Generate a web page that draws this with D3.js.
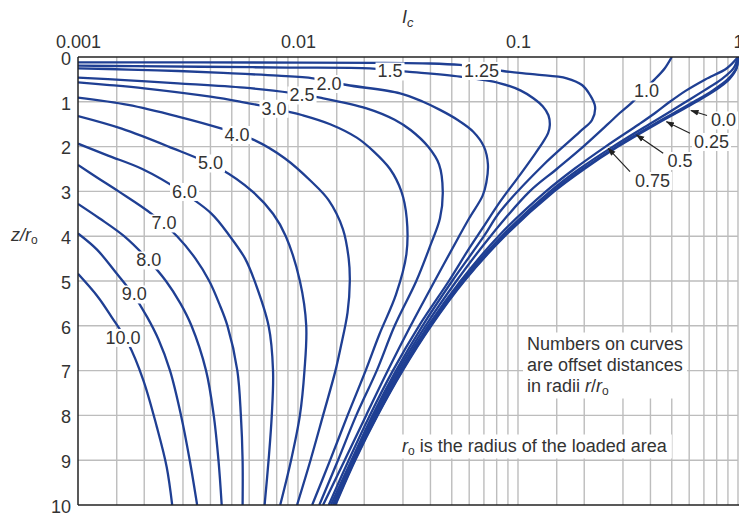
<!DOCTYPE html>
<html><head><meta charset="utf-8">
<script src="https://cdnjs.cloudflare.com/ajax/libs/d3/7.8.5/d3.min.js"></script>
<style>
body{margin:0;background:#fff;}
svg{display:block;font-family:"Liberation Sans",Arial,Helvetica,sans-serif;}
</style></head><body>
<svg id="c" width="739" height="514"></svg>
<script>
// ---------- DATA (z/r0, Ic) ----------
const xTickValues = [0.001, 0.01, 0.1, 1];
const xTickLabels = ["0.001", "0.01", "0.1", "1"];
const yTickValues = [0,1,2,3,4,5,6,7,8,9,10];
const gridMultipliers = [1.5,2,3,4,5,6,7,8,9];
const gridDecades = [0.001, 0.01, 0.1];

const curve_0_0 = [[0,1],[0.25,0.986],[0.5,0.911],[0.75,0.784],[1,0.646],[1.25,0.524],[1.5,0.424],[2,0.285],[2.5,0.200],[3,0.146],[4,0.087],[5,0.057],[6,0.0403],[7,0.0299],[8,0.0230],[9,0.0182],[10,0.0148]];
const curve_0_25 = [[0,1],[0.25,0.982],[0.5,0.897],[0.75,0.766],[1,0.630],[1.25,0.512],[1.5,0.415],[2,0.280],[2.5,0.197],[3,0.144],[4,0.0862],[5,0.0566],[6,0.0400],[7,0.0297],[8,0.0229],[9,0.0181],[10,0.0147]];
const curve_0_5 = [[0,1],[0.25,0.955],[0.5,0.84],[0.75,0.70],[1,0.58],[1.25,0.48],[1.5,0.395],[2,0.27],[2.5,0.19],[3,0.140],[4,0.0843],[5,0.0557],[6,0.0395],[7,0.0294],[8,0.0227],[9,0.0180],[10,0.0146]];
const curve_0_75 = [[0,1],[0.25,0.89],[0.5,0.71],[0.75,0.58],[1,0.49],[1.25,0.42],[1.5,0.355],[2,0.25],[2.5,0.18],[3,0.134],[4,0.0815],[5,0.0548],[6,0.0390],[7,0.0291],[8,0.0226],[9,0.0179],[10,0.01455]];
const curve_1_0 = [[0,0.5],[0.25,0.465],[0.5,0.418],[0.75,0.37],[1,0.332],[1.25,0.29],[1.5,0.256],[2,0.198],[2.5,0.15],[3,0.113],[4,0.075],[5,0.0525],[6,0.038],[7,0.0285],[8,0.0222],[9,0.0178],[10,0.0144]];
const curve_1_25 = [[0.118,0.001],[0.1205,0.0036],[0.125,0.0102],[0.1295,0.0224],[0.145,0.0398],[0.178,0.0545],[0.234,0.0679],[0.3125,0.0855],[0.39,0.1195],[0.475,0.1665],[0.625,0.1954],[0.848,0.2125],[1.109,0.224],[1.406,0.217],[1.667,0.1913],[2.41,0.1303],[3.45,0.0829],[4,0.0700],[5,0.0502],[6,0.0368],[7,0.0279],[8,0.0218],[9,0.0175],[10,0.0141]];
const curve_1_5 = [[0.194,0.001],[0.205,0.0018],[0.218,0.0036],[0.235,0.009],[0.252,0.0212],[0.29,0.026],[0.328,0.0313],[0.44,0.0545],[0.587,0.0829],[0.75,0.103],[0.92,0.1174],[1.1,0.1295],[1.3,0.1375],[1.52,0.1395],[1.7,0.137],[1.89,0.1303],[2.2,0.118],[2.63,0.1021],[3.23,0.0829],[3.8,0.0695],[4.3,0.0595],[5,0.0485],[6,0.0355],[7,0.0270],[8,0.0212],[9,0.0170],[10,0.0138]];
const curve_2_0 = [[0.252,0.001],[0.28,0.0017],[0.3125,0.00285],[0.36,0.0048],[0.417,0.0081],[0.475,0.0117],[0.55,0.0142],[0.625,0.0167],[0.81,0.0291],[1.0,0.037],[1.18,0.0442],[1.4,0.053],[1.667,0.0626],[2,0.0700],[2.4,0.0730],[2.8,0.0718],[3.1,0.0690],[3.6,0.0600],[4,0.0540],[5,0.0418],[6,0.0325],[7,0.0256],[8,0.0204],[9,0.0163],[10,0.0130]];
const curve_2_5 = [[0.462,0.001],[0.52,0.0017],[0.587,0.00285],[0.685,0.0057],[0.8,0.0093],[0.908,0.0126],[1.145,0.0205],[1.4,0.0275],[1.63,0.0325],[2,0.039],[2.4,0.0438],[3,0.0455],[3.6,0.0442],[4.2,0.040],[5,0.0345],[6,0.0275],[7,0.0228],[8,0.0184],[9,0.0152],[10,0.0125]];
const curve_3_0 = [[0.565,0.001],[0.62,0.00135],[0.7,0.002],[0.886,0.004],[1.0,0.0055],[1.145,0.0078],[1.3,0.0105],[1.5,0.014],[1.8,0.0185],[2.1,0.022],[2.5,0.0262],[3,0.0295],[3.6,0.0312],[4.4,0.0311],[5.3,0.0279],[6.2,0.0234],[7,0.0203],[8,0.0168],[9,0.0140],[10,0.0116]];
const curve_4_0 = [[0.908,0.001],[1.07,0.00169],[1.33,0.00285],[1.6,0.0045],[1.85,0.0063],[2.26,0.0087],[2.78,0.0115],[3.2,0.0138],[3.84,0.0160],[4.5,0.0170],[5,0.0172],[5.7,0.0168],[6.5,0.0156],[7,0.0148],[8,0.0130],[9,0.0114],[10,0.0099]];
const curve_5_0 = [[1.32,0.001],[1.6,0.00158],[2,0.00258],[2.5,0.00445],[3,0.0062],[3.5,0.0077],[4,0.0088],[5,0.0102],[6,0.0109],[7,0.0107],[8,0.0102],[9,0.0093],[10,0.0083]];
const curve_6_0 = [[1.935,0.001],[2.2,0.00137],[2.5,0.00196],[3,0.00295],[3.5,0.00405],[4,0.0049],[4.5,0.00575],[5,0.00635],[6,0.00735],[7,0.0077],[8,0.0076],[9,0.00735],[10,0.00705]];
const curve_7_0 = [[2.41,0.001],[2.7,0.00123],[3,0.00153],[3.5,0.00216],[4,0.00282],[4.5,0.00342],[5,0.00395],[5.5,0.00438],[6,0.00478],[7,0.00530],[8,0.00550],[9,0.00560],[10,0.0056]];
const curve_8_0 = [[3.28,0.001],[3.6,0.00125],[4,0.00162],[4.5,0.00206],[5,0.00251],[5.5,0.00292],[6,0.00328],[7,0.00382],[8,0.00414],[9,0.00435],[10,0.0045]];
const curve_9_0 = [[3.94,0.001],[4.3,0.00122],[4.8,0.00148],[5.3,0.00178],[5.8,0.00206],[6.3,0.00232],[7,0.00262],[8,0.00294],[9,0.00322],[10,0.00348]];
const curve_10_0 = [[4.84,0.001],[5.35,0.00123],[5.8,0.00142],[6.39,0.00169],[7.21,0.00198],[8.25,0.00228],[9.15,0.00253],[10,0.00268]];

// curve labels: text and anchor (Ic, z/r0)
const labelTexts = ["1.5","1.25","2.0","2.5","3.0","4.0","5.0","6.0","7.0","8.0","9.0","10.0","1.0","0.0","0.25","0.5","0.75"];
const labelIc = [0.0262,0.0682,0.01383,0.01043,0.00778,0.00528,0.0040,0.00305,0.00246,0.0021,0.0018,0.0016,0.384,0.859,0.758,0.545,0.409];
const labelZ = [0.3125,0.301,0.5915,0.848,1.145,1.73,2.366,3.002,3.705,4.531,5.29,6.26,0.759,1.406,1.886,2.31,2.757];

// arrows for the tight bundle: tail (Ic,z) -> tip (Ic,z)
const arrowTailIc = [0.723,0.605,0.457,0.323];
const arrowTailZ = [1.306,1.703,2.15,2.56];
const arrowTipIc = [0.611,0.473,0.346,0.257];
const arrowTipZ = [1.194,1.444,1.741,2.038];

// ---------- CHART ----------
const curves = [curve_0_0,curve_0_25,curve_0_5,curve_0_75,curve_1_0,curve_1_25,curve_1_5,curve_2_0,curve_2_5,curve_3_0,curve_4_0,curve_5_0,curve_6_0,curve_7_0,curve_8_0,curve_9_0,curve_10_0];

const svg = d3.select("#c");
const L = 78, R = 738, T = 57, B = 505;
const x = d3.scaleLog().domain([0.001, 1]).range([L, R]);
const y = d3.scaleLinear().domain([0, 10]).range([T, B]);

const gridColor = "#bdbdbd";
const textColor = "#333";
const curveColor = "#1f3f93";

svg.append("defs").append("clipPath").attr("id","plotclip")
  .append("rect").attr("x",L).attr("y",T).attr("width",R-L+1).attr("height",B-T);

const marker = svg.select("defs").append("marker")
  .attr("id","arrow").attr("viewBox","0 0 10 10").attr("refX",9).attr("refY",5)
  .attr("markerWidth",7).attr("markerHeight",7).attr("orient","auto")
  .append("path").attr("d","M0,1.5 L10,5 L0,8.5 Z").attr("fill","#222");

// grid
const vGrid = [];
gridDecades.forEach(d => gridMultipliers.forEach(m => vGrid.push(d*m)));
vGrid.push(0.01, 0.1, 1);
const g = svg.append("g");
g.selectAll("line.v").data(vGrid).join("line")
  .attr("x1", d => x(d)).attr("x2", d => x(d)).attr("y1", T).attr("y2", B)
  .attr("stroke", gridColor).attr("stroke-width", 1.4);
g.selectAll("line.h").data(d3.range(1,10)).join("line")
  .attr("x1", L).attr("x2", R).attr("y1", d => y(d)).attr("y2", d => y(d))
  .attr("stroke", gridColor).attr("stroke-width", 1.4);

// curves
const line = d3.line().x(d => x(d[1])).y(d => y(d[0])).curve(d3.curveCatmullRom.alpha(0.5));
svg.append("g").attr("clip-path","url(#plotclip)")
  .selectAll("path").data(curves).join("path")
  .attr("d", line).attr("fill","none").attr("stroke",curveColor).attr("stroke-width",2.3)
  .attr("stroke-linejoin","round");

// frame
svg.append("line").attr("x1",L).attr("x2",R+1).attr("y1",T).attr("y2",T).attr("stroke","#222").attr("stroke-width",1.5);
svg.append("line").attr("x1",L).attr("x2",L).attr("y1",T).attr("y2",B).attr("stroke","#222").attr("stroke-width",1.5);
svg.append("line").attr("x1",L).attr("x2",R+1).attr("y1",B).attr("y2",B).attr("stroke","#222").attr("stroke-width",1.5);

// axes
const topAxis = d3.axisTop(x).tickValues(xTickValues).tickFormat((d,i) => xTickLabels[i]).tickSize(0).tickPadding(9);
const ax = svg.append("g").attr("transform",`translate(0,${T})`).call(topAxis);
ax.select(".domain").remove();
ax.selectAll("text").attr("font-size",18).attr("fill",textColor).attr("font-family","Liberation Sans, Arial, sans-serif");

const leftAxis = d3.axisLeft(y).tickValues(yTickValues).tickFormat(d3.format("d")).tickSize(0).tickPadding(7);
const ay = svg.append("g").attr("transform",`translate(0,1.5)`).call(leftAxis.scale(y.copy().range([T,B])));
ay.attr("transform",`translate(${L},1.5)`);
ay.select(".domain").remove();
ay.selectAll("text").attr("font-size",18).attr("fill",textColor).attr("font-family","Liberation Sans, Arial, sans-serif");

// axis titles
const tIc = svg.append("text").attr("x",402).attr("y",23).attr("fill",textColor).attr("font-size",18);
tIc.append("tspan").attr("font-style","italic").text("I");
tIc.append("tspan").attr("font-style","italic").attr("font-size",13).attr("dy",4).text("c");

const tZ = svg.append("text").attr("x",11).attr("y",241).attr("fill",textColor).attr("font-size",18);
tZ.append("tspan").attr("font-style","italic").text("z/r");
tZ.append("tspan").attr("font-size",12).attr("dy",3).text("o");

// curve labels with white boxes
const lg = svg.append("g");
labelTexts.forEach((t,i) => {
  const gg = lg.append("g");
  const tx = gg.append("text").attr("x", x(labelIc[i])).attr("y", y(labelZ[i]))
    .attr("text-anchor","middle").attr("dy","0.36em").attr("font-size",18).attr("fill",textColor).text(t);
  const bb = tx.node().getBBox();
  gg.insert("rect","text").attr("x",bb.x-2).attr("y",bb.y+1).attr("width",bb.width+4).attr("height",bb.height-2).attr("fill","#fff");
});

// arrows
arrowTailIc.forEach((d,i) => {
  svg.append("line").attr("x1",x(d)).attr("y1",y(arrowTailZ[i])).attr("x2",x(arrowTipIc[i])).attr("y2",y(arrowTipZ[i]))
    .attr("stroke","#222").attr("stroke-width",1.2).attr("marker-end","url(#arrow)");
});

// notes
function note(lines, x0, y0, lh) {
  const gg = svg.append("g");
  const t = gg.append("text").attr("font-size",18).attr("fill",textColor);
  lines.forEach((parts,k) => {
    parts.forEach((p,j) => {
      const ts = t.append("tspan").text(p.t);
      if (j===0) ts.attr("x",x0).attr("y",y0+k*lh);
      if (p.it) ts.attr("font-style","italic");
      if (p.sub) ts.attr("font-size",12).attr("dy",3);
      if (p.after) ts.attr("dy",-3);
    });
  });
  const bb = t.node().getBBox();
  gg.insert("rect","text").attr("x",bb.x-4).attr("y",bb.y-1).attr("width",bb.width+8).attr("height",bb.height+2).attr("fill","#fff");
}
note([[{t:"Numbers on curves"}],[{t:"are offset distances"}],[{t:"in radii "},{t:"r",it:true},{t:"/"},{t:"r",it:true},{t:"o",sub:true}]], 527, 349.5, 21);
note([[{t:"r",it:true},{t:"o",sub:true},{t:" is the radius of the loaded area",after:true}]], 402, 451.5, 21);
</script>
</body></html>
